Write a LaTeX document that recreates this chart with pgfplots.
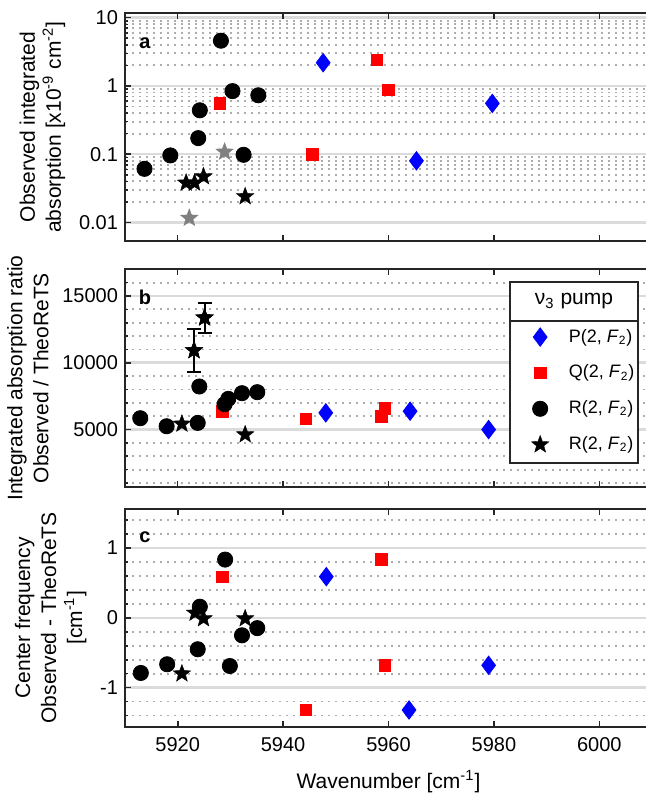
\documentclass[border=0pt]{standalone}
\usepackage{pgfplots}
\pgfplotsset{compat=1.18}
\usepackage{fontspec}
\setmainfont{Liberation Sans}
\pgfdeclareplotmark{fstar}{%
 \pgfpathmoveto{\pgfpointpolar{90}{\pgfplotmarksize}}%
 \pgfpathlineto{\pgfpointpolar{126}{0.42\pgfplotmarksize}}%
 \pgfpathlineto{\pgfpointpolar{162}{\pgfplotmarksize}}%
 \pgfpathlineto{\pgfpointpolar{198}{0.42\pgfplotmarksize}}%
 \pgfpathlineto{\pgfpointpolar{234}{\pgfplotmarksize}}%
 \pgfpathlineto{\pgfpointpolar{270}{0.42\pgfplotmarksize}}%
 \pgfpathlineto{\pgfpointpolar{306}{\pgfplotmarksize}}%
 \pgfpathlineto{\pgfpointpolar{342}{0.42\pgfplotmarksize}}%
 \pgfpathlineto{\pgfpointpolar{18}{\pgfplotmarksize}}%
 \pgfpathlineto{\pgfpointpolar{54}{0.42\pgfplotmarksize}}%
 \pgfpathclose\pgfusepathqfillstroke}
\begin{document}
\begin{tikzpicture}
\pgfplotsset{
 myax/.style={
  scale only axis, width=263.5pt, xmin=5910, xmax=6010,
  xtick={5920,5940,5960,5980,6000},
  tick align=inside, major tick length=3pt, minor tick length=1.6pt,
  axis line style={line width=1pt, black!85},
  every tick/.style={line width=0.8pt, black!85},
  ymajorgrids, yminorgrids,
  major grid style={line width=1.3pt, black!14},
  minor grid style={line width=0.9pt, black!32, dash pattern=on 0.9pt off 2.6pt},
  font=\fontsize{10}{12}\selectfont,
  /pgf/number format/assume math mode=true,
  ylabel style={align=center, font=\fontsize{10.5}{13}\selectfont},
  xlabel style={font=\fontsize{10.5}{13}\selectfont, yshift=-2.5pt},
  xticklabel style={yshift=-2pt},
  clip=false,
 },
 circ/.style={only marks, mark=*, mark size=3.8pt, black, mark options={fill=black, draw=black}},
 sq/.style={only marks, mark=square*, mark size=2.9pt, red, mark options={fill=red, draw=red}},
 dia/.style={only marks, mark=diamond*, mark size=4.6pt, blue, mark options={fill=blue, draw=blue}},
 st/.style={only marks, mark=fstar, mark size=4.6pt, black, mark options={fill=black, draw=black, line width=0.2pt}},
 gst/.style={only marks, mark=fstar, mark size=4.6pt, gray, mark options={fill=gray, draw=gray, line width=0.2pt}},
}
% ---------------- panel a ----------------
\begin{axis}[myax, name=a, at={(0,0)}, anchor=north west, height=113.7pt,
  ymode=log, ymin=0.0054, ymax=11.6, ytick={0.01,0.1,1,10},
  log ticks with fixed point, xticklabels={},
  ylabel={Observed integrated\\absorption [x10\textsuperscript{-9} cm\textsuperscript{-2}]}]
\addplot[circ] coordinates {(5913.7,0.061)(5918.6,0.096)(5923.9,0.172)(5924.2,0.44)(5928.2,4.6)(5930.4,0.84)(5932.5,0.098)(5935.3,0.73)};
\addplot[sq] coordinates {(5928.0,0.555)(5945.6,0.10)(5957.8,2.4)(5960.0,0.88)};
\addplot[dia] coordinates {(5947.6,2.19)(5965.3,0.08)(5979.7,0.555)};
\addplot[st] coordinates {(5921.6,0.038)(5923.2,0.038)(5924.9,0.047)(5932.8,0.024)};
\addplot[gst] coordinates {(5922.2,0.0116)(5928.9,0.108)};
\node[font=\bfseries\fontsize{10}{12}\selectfont] at (rel axis cs:0.038,0.87) {a};
\end{axis}
% ---------------- panel b ----------------
\begin{axis}[myax, name=b, at={(0,-128pt)}, anchor=north west, height=108.85pt,
  ymin=700, ymax=17000, ytick={5000,10000,15000},
  minor ytick={1000,2000,3000,4000,6000,7000,8000,9000,11000,12000,13000,14000,16000},
  scaled y ticks=false, yticklabel style={/pgf/number format/set thousands separator={}},
  xticklabels={},
  ylabel={Integrated absorption ratio\\Observed / TheoReTS},
  legend style={at={(rel axis cs:0.7306,0.764)}, xshift=10.5pt, yshift=0pt, anchor=north west,
    draw=none, fill=none, inner xsep=0pt, row sep=5.9pt,
    font=\fontsize{9}{11.5}\selectfont},
  legend cell align=left]
\addplot[st, forget plot, error bars/.cd, y dir=both, y explicit,
  error bar style={line width=1pt, black},
  error mark options={rotate=90, mark size=3.5pt, line width=1pt, black}]
  coordinates {(5923.1,10925) +- (0,1600) (5925.1,13375) +- (0,1125)};
\draw[line width=1pt, black!85, fill=white] (rel axis cs:0.7306,0.112) rectangle (rel axis cs:0.9734,0.943);
\draw[line width=1pt, black!85] (rel axis cs:0.7306,0.764) -- (rel axis cs:0.9734,0.764);
\node[font=\fontsize{10.5}{13}\selectfont] at (rel axis cs:0.852,0.853) {ν\textsubscript{3} pump};
\node[font=\bfseries\fontsize{10}{12}\selectfont] at (rel axis cs:0.038,0.87) {b};
\addplot[dia] coordinates {(5948.1,6250)(5964.1,6375)(5979.0,5000)};
\addlegendentry{\hspace{8pt}P(2, \textit{F}\textsubscript{2})}
\addplot[sq] coordinates {(5928.5,6375)(5944.3,5800)(5958.6,5975)(5959.3,6600)};
\addlegendentry{\hspace{8pt}Q(2, \textit{F}\textsubscript{2})}
\addplot[circ] coordinates {(5912.9,5850)(5917.9,5250)(5923.8,5500)(5924.1,8225)(5928.9,6900)(5929.6,7300)(5932.2,7725)(5935.1,7800)};
\addlegendentry{\hspace{8pt}R(2, \textit{F}\textsubscript{2})}
\addplot[st] coordinates {(5920.8,5425)(5923.1,10925)(5925.1,13375)(5932.8,4625)};
\addlegendentry{\hspace{8pt}R(2, \textit{F}\textsubscript{2})}
\end{axis}
% ---------------- panel c ----------------
\begin{axis}[myax, name=c, at={(0,-247.85pt)}, anchor=north west, height=108.85pt,
  ymin=-1.56, ymax=1.56, ytick={-1,0,1},
  minor ytick={-1.4,-1.2,-0.8,-0.6,-0.4,-0.2,0.2,0.4,0.6,0.8,1.2,1.4},
  xticklabel style={/pgf/number format/set thousands separator={}},
  xlabel={Wavenumber [cm\textsuperscript{-1}]},
  ylabel={Center frequency\\Observed - TheoReTS\\[0pt] [cm\textsuperscript{-1}]}]
\addplot[circ] coordinates {(5913.0,-0.79)(5918.0,-0.665)(5923.8,-0.45)(5924.2,0.16)(5929.0,0.835)(5929.9,-0.69)(5932.2,-0.25)(5935.1,-0.147)};
\addplot[sq] coordinates {(5928.5,0.587)(5944.3,-1.32)(5958.7,0.84)(5959.3,-0.68)};
\addplot[dia] coordinates {(5948.2,0.59)(5963.9,-1.32)(5979.0,-0.68)};
\addplot[st] coordinates {(5920.8,-0.80)(5923.3,0.07)(5924.9,-0.01)(5932.8,-0.01)};
\node[font=\bfseries\fontsize{10}{12}\selectfont] at (rel axis cs:0.038,0.87) {c};
\end{axis}
\pgfresetboundingbox
\path[use as bounding box] ([shift={(-62.5pt,6.65pt)}]a.north west) rectangle ([shift={(260.5pt,-391.35pt)}]a.north west);
\end{tikzpicture}
\end{document}
